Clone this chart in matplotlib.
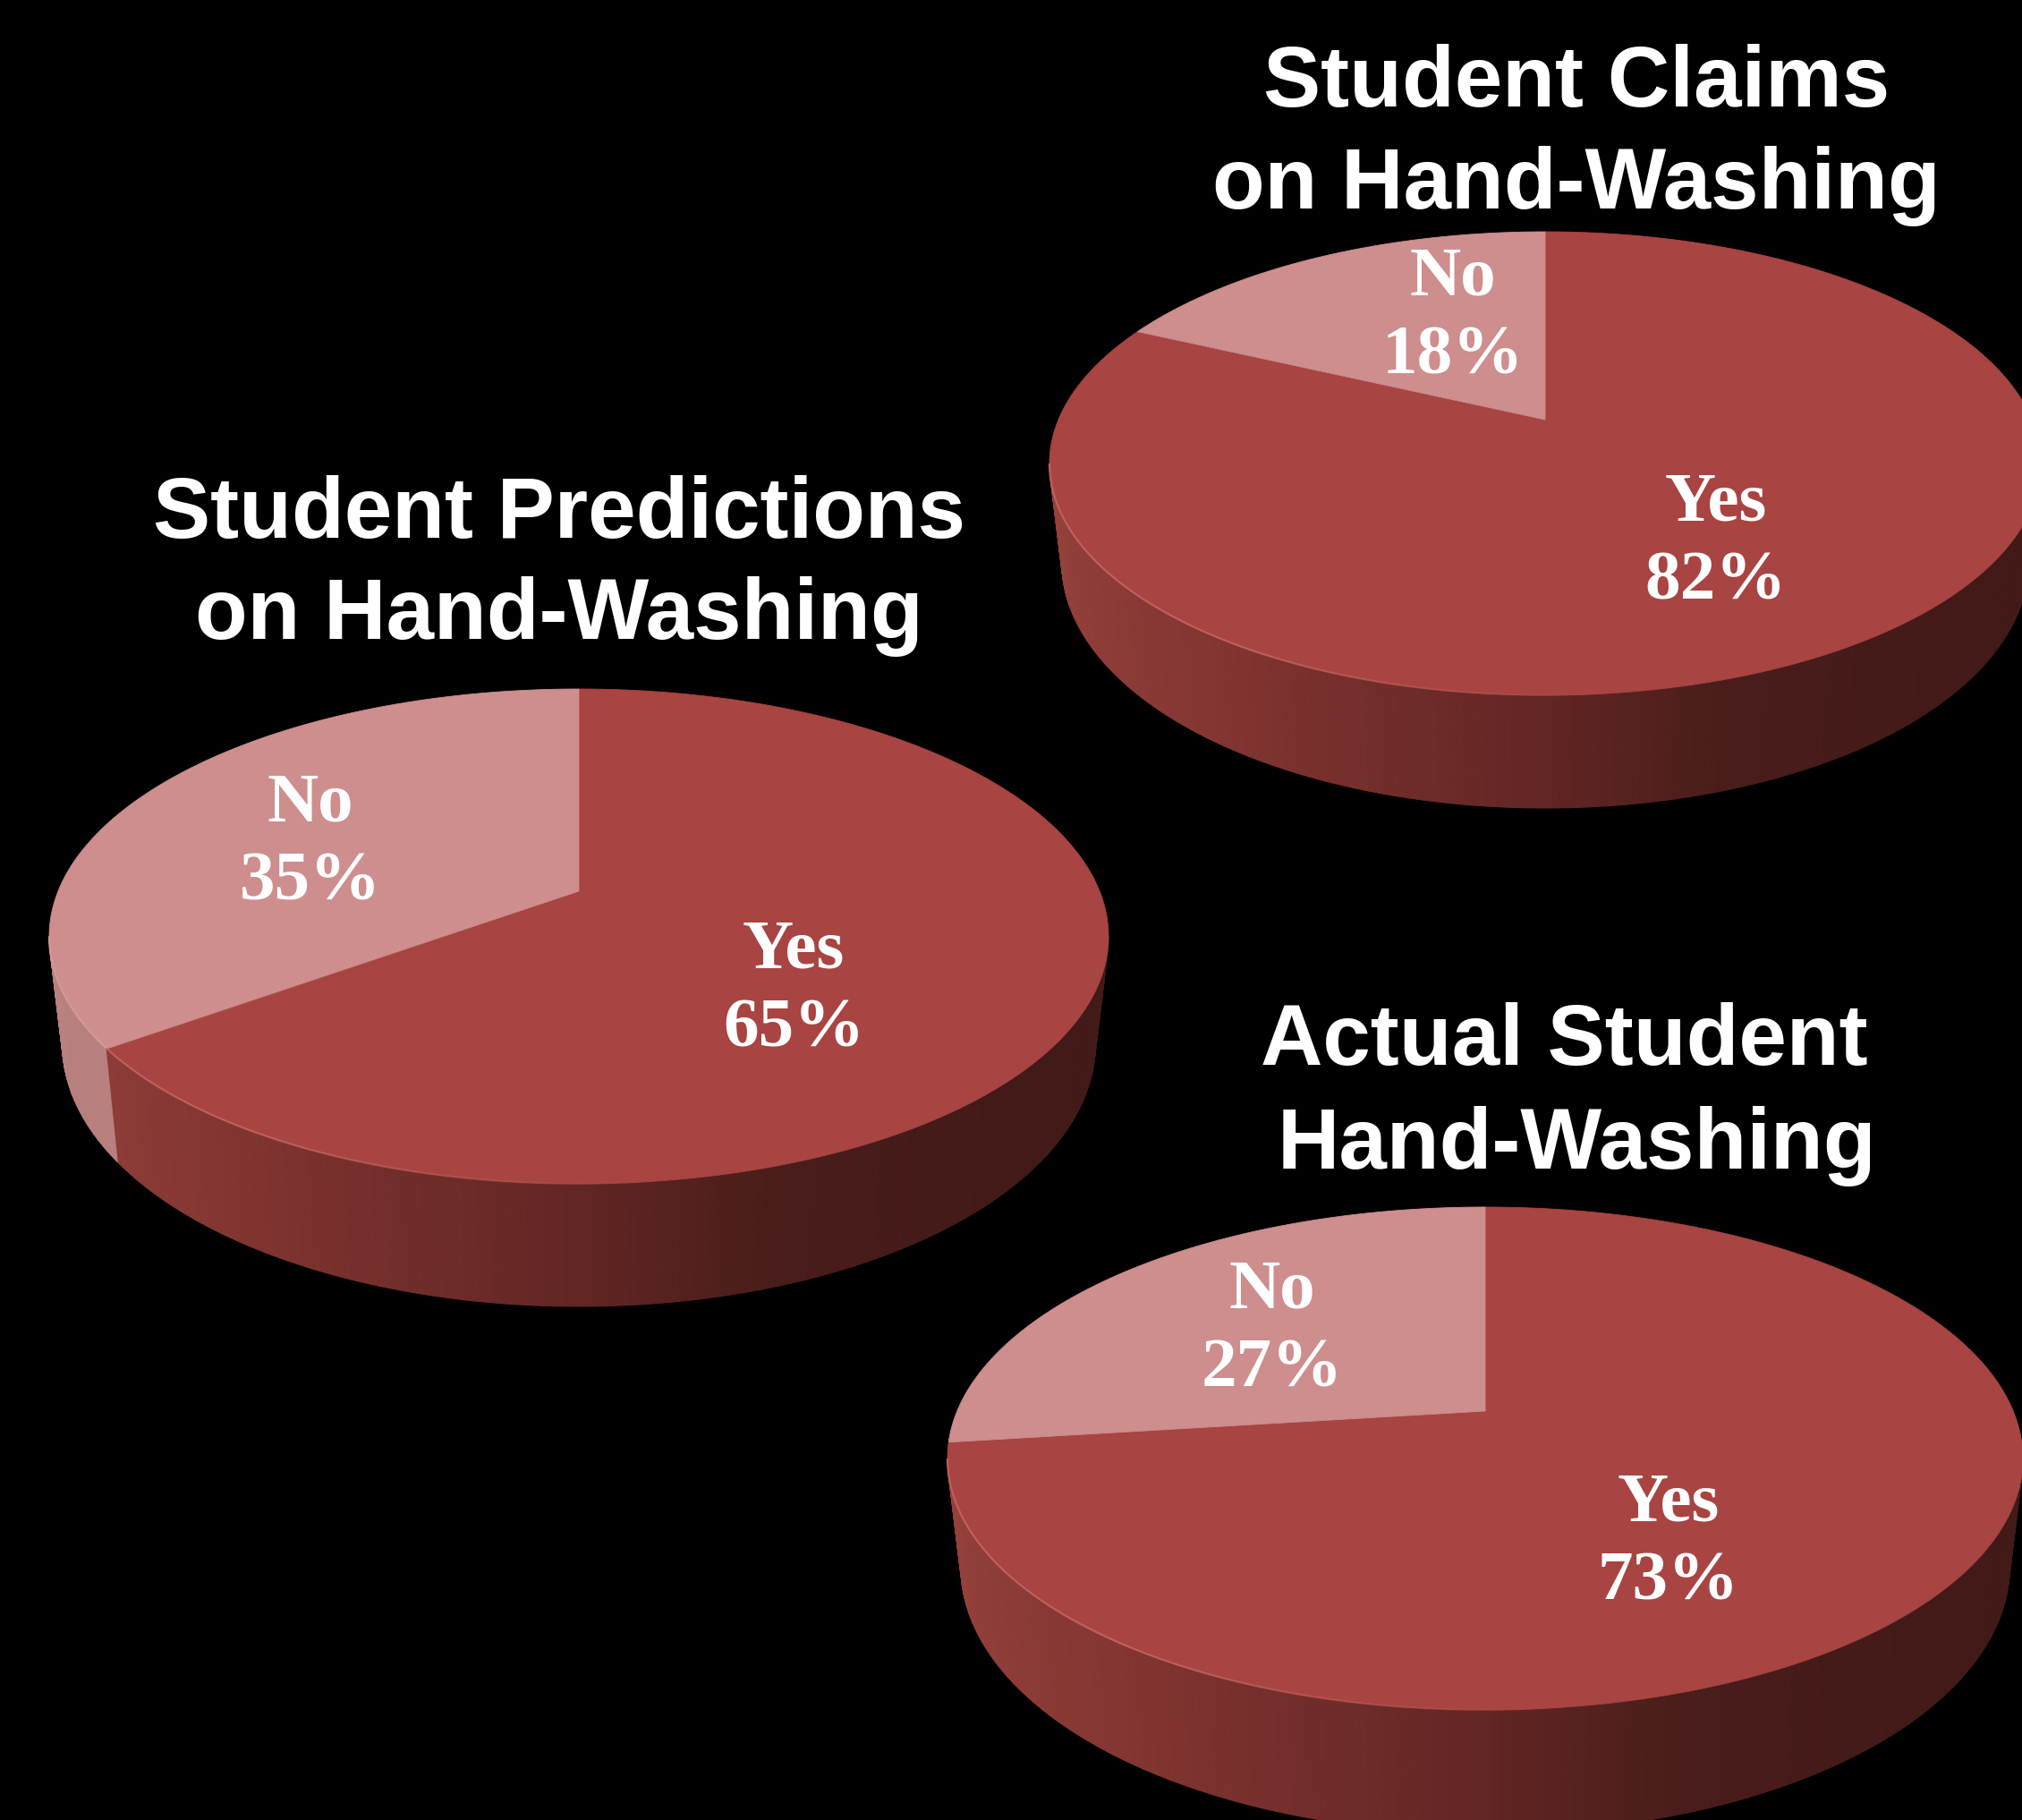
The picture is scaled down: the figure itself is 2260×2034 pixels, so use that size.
import numpy as np
import matplotlib
matplotlib.use("Agg")
import matplotlib.pyplot as plt
from matplotlib.collections import LineCollection
from matplotlib.colors import LinearSegmentedColormap

# survey results, one entry per pie
chart_titles = [
    ["Student Predictions", "on Hand-Washing"],
    ["Student Claims", "on Hand-Washing"],
    ["Actual Student", "Hand-Washing"],
]
yes_share = [65, 82, 73]
no_share = [35, 18, 27]
answer_names = ["Yes", "No"]

# pie placement in pixels: centre x, hub y, top, front, left edge, wall height
pie_boxes = [
    (647, 996, 770, 1323, 55, 137),
    (1727, 469, 259, 777, 1173, 126),
    (1660, 1577, 1349, 1911, 1059, 138),
]
# title x, baseline y per line
title_spots = [
    [(625, 601), (625, 714)],
    [(1762, 119), (1762, 233)],
    [(1748, 1190), (1762, 1306)],
]
# label x, baseline of the name for the yes and no answers
yes_spots = [(887, 1082), (1918, 581), (1865, 1700)]
no_spots = [(347, 918), (1624, 329), (1422, 1462)]

TOP_YES = "#a84442"
TOP_NO = "#cd8e8d"
WALL_NO = "#b8807e"
LABEL_SIZE = 57
TITLE_SIZE = 69.2

wall_cmap = LinearSegmentedColormap.from_list("wall", [
    (0.0, "#94403b"), (0.08, "#8a3a35"), (0.27, "#78302d"), (0.5, "#622624"),
    (0.68, "#4a1d1b"), (0.92, "#421a18"), (1.0, "#421a18"),
])


def project(theta, cx, hub, a, b, k):
    # perspective view of a flat disc, theta runs clockwise from 12 o'clock
    u = np.sin(theta)
    v = np.cos(theta)
    d = 1 + k * v
    return cx + a * u / d, hub - b * v / d


def draw_pie(ax, box, yes):
    cx, hub, top, front, left, depth = box
    up = hub - top
    down = front - hub
    k = (down - up) / (down + up)
    b = up * (1 + k)
    half = cx - left
    a = half * np.sqrt(1 - k ** 2)

    # bottom disc of the cylinder
    a2 = a * 0.975
    b2 = b * 1.06
    hub2 = front + depth - b2 / (1 - k)

    split = np.radians(yes * 3.6)
    tangent = np.arcsin(k)
    sweep = np.linspace(np.pi / 2 + tangent, 3 * np.pi / 2 - tangent, 241)

    for t0, t1 in zip(sweep[:-1], sweep[1:]):
        x0, y0 = project(t0, cx, hub, a, b, k)
        x1, y1 = project(t1, cx, hub, a, b, k)
        x2, y2 = project(t1, cx, hub2, a2, b2, k)
        x3, y3 = project(t0, cx, hub2, a2, b2, k)
        pos = ((x0 + x1) / 2 - left) / (2 * half)
        col = WALL_NO if t0 >= split else wall_cmap(pos)
        ax.fill([x0, x1, x2, x3], [y0, y1, y2, y3], color=col, lw=0.8, zorder=2)

    # top face
    th_yes = np.linspace(0, split, 400)
    th_no = np.linspace(split, 2 * np.pi, 300)
    xs, ys = project(th_yes, cx, hub, a, b, k)
    ax.fill(np.r_[cx, xs], np.r_[hub, ys], color=TOP_YES, lw=0.6, zorder=3)
    xs, ys = project(th_no, cx, hub, a, b, k)
    ax.fill(np.r_[cx, xs], np.r_[hub, ys], color=TOP_NO, lw=0.6, zorder=4)

    # soft highlight along the front rim, gone by the right side
    th = np.linspace(np.pi * 0.95, 3 * np.pi / 2 - tangent, 200)
    xs, ys = project(th, cx, hub, a, b, k)
    pts = np.column_stack([xs, ys])
    segs = np.stack([pts[:-1], pts[1:]], axis=1)
    fade = 0.75 * np.clip((th[:-1] - th[0]) / (th[-1] - th[0]) * 2.2, 0, 1)
    cols = [(0.86 if t >= split else 0.80, 0.42 if t < split else 0.62,
             0.40 if t < split else 0.60, f)
            for t, f in zip(th[:-1], fade)]
    ax.add_collection(LineCollection(segs, colors=cols, linewidths=1.6, zorder=5))


def put_label(ax, spot, name, value):
    x, y = spot
    ax.text(x, y, name, color="white", fontsize=LABEL_SIZE, fontweight="bold",
            family="Liberation Serif", ha="center", va="baseline", zorder=8)
    ax.text(x, y + 88, f"{value}%", color="white", fontsize=LABEL_SIZE, fontweight="bold",
            family="Liberation Serif", ha="center", va="baseline", zorder=8)


fig = plt.figure(figsize=(22.6, 20.34), dpi=100, facecolor="black")
ax = fig.add_axes([0, 0, 1, 1])
ax.set_xlim(0, 2260)
ax.set_ylim(2034, 0)
ax.axis("off")

for i in range(3):
    draw_pie(ax, pie_boxes[i], yes_share[i])
    put_label(ax, yes_spots[i], answer_names[0], yes_share[i])
    put_label(ax, no_spots[i], answer_names[1], no_share[i])
    for line, (x, y) in zip(chart_titles[i], title_spots[i]):
        ax.text(x, y, line, color="white", fontsize=TITLE_SIZE, fontweight="bold",
                family="Liberation Sans", ha="center", va="baseline", zorder=9)

fig.savefig("out.png", dpi=100, facecolor="black")
